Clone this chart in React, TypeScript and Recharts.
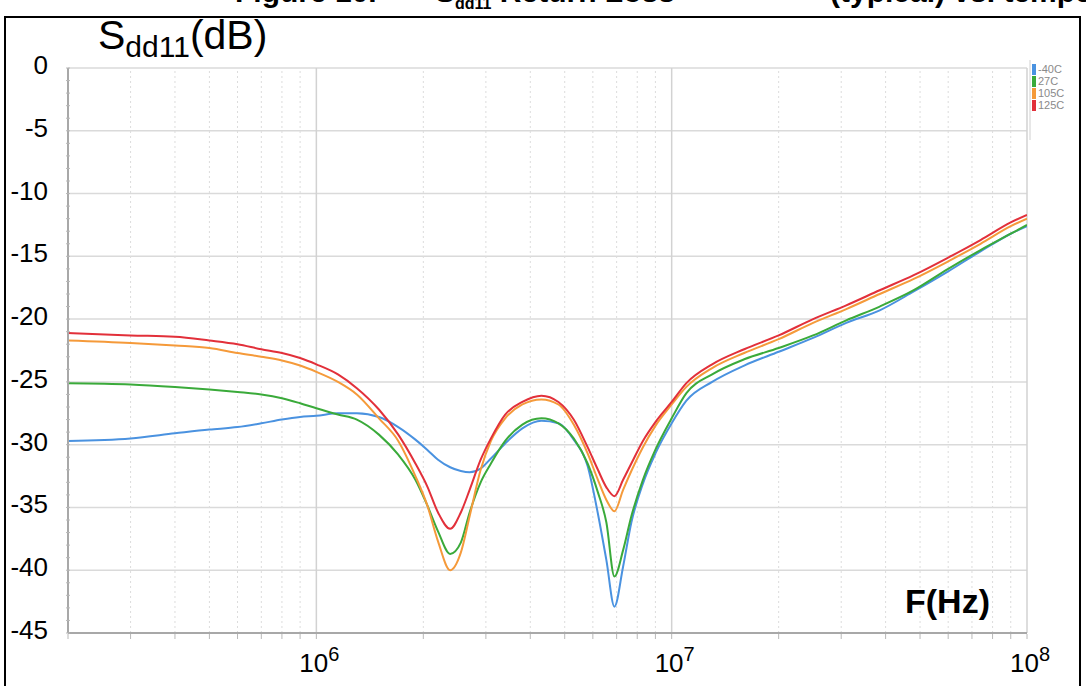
import { LineChart, Line, XAxis, YAxis, ReferenceLine } from "recharts"

// frequency grid (Hz) shared by all four traces
const freqHz = [
  2e5, 3e5, 4e5, 5e5, 6e5, 7e5, 8e5, 9e5, 1e6, 1.15e6, 1.3e6, 1.5e6, 1.7e6, 1.9e6, 2.05e6, 2.2e6,
  2.38e6, 2.55e6, 2.7e6, 2.9e6, 3.1e6, 3.4e6, 3.8e6, 4.3e6, 4.8e6, 5.3e6, 5.8e6, 6.2e6, 6.55e6,
  6.9e6, 7.3e6, 7.7e6, 8.3e6, 9e6, 1e7, 1.1e7, 1.3e7, 1.6e7, 2e7, 2.5e7, 3.1e7, 3.85e7, 4.8e7,
  6e7, 7.4e7, 9e7, 1e8,
]

const sddMinus40 = [
  -29.7, -29.5, -29.1, -28.8, -28.6, -28.3, -28.0, -27.8, -27.7, -27.5, -27.5, -27.8, -28.6, -29.6,
  -30.4, -31.2, -31.8, -32.1, -32.2, -31.9, -31.1, -29.9, -28.7, -28.1, -28.3, -29.6, -31.7, -35.5,
  -39.2, -42.9, -39.7, -36.2, -33.1, -30.7, -28.3, -26.5, -25.0, -23.7, -22.6, -21.5, -20.3, -19.3,
  -17.8, -16.2, -14.6, -13.2, -12.6,
]

const sdd27 = [
  -25.1, -25.2, -25.4, -25.6, -25.8, -26.0, -26.3, -26.7, -27.1, -27.6, -28.0, -29.2, -30.8, -32.8,
  -34.8, -36.9, -38.7, -37.8, -35.4, -33.0, -31.5, -29.7, -28.4, -27.9, -28.3, -29.5, -31.5, -33.8,
  -36.2, -40.5, -38.4, -35.7, -32.8, -30.4, -27.9, -25.9, -24.4, -23.2, -22.3, -21.3, -20.1, -19.0,
  -17.7, -16.0, -14.5, -13.2, -12.5,
]

const sdd105 = [
  -21.7, -21.9, -22.1, -22.3, -22.7, -23.0, -23.3, -23.7, -24.2, -25.0, -26.0, -27.9, -29.7, -32.5,
  -34.8, -37.7, -40.0, -38.6, -35.7, -32.0, -29.7, -27.9, -26.8, -26.4, -26.8, -28.4, -30.7, -32.8,
  -34.4, -35.3, -33.6, -32.1, -30.2, -28.5, -26.8, -25.4, -23.9, -22.7, -21.6, -20.3, -19.2, -18.0,
  -16.8, -15.4, -14.0, -12.6, -12.0,
]

const sdd125 = [
  -21.1, -21.3, -21.4, -21.7, -22.0, -22.4, -22.7, -23.1, -23.6, -24.4, -25.5, -27.2, -29.2, -31.5,
  -33.3, -35.4, -36.7, -35.4, -33.6, -31.2, -29.5, -27.6, -26.6, -26.1, -26.6, -28.0, -30.2, -32.0,
  -33.4, -34.1, -32.8, -31.5, -29.7, -28.2, -26.6, -25.1, -23.6, -22.4, -21.3, -20.0, -18.9, -17.7,
  -16.5, -15.1, -13.7, -12.3, -11.7,
]

const seriesNames = ["-40C", "27C", "105C", "125C"]
const seriesColors = ["#4a92e0", "#3aaa3a", "#f59a3a", "#e2303a"]

const yMajor = [0, -5, -10, -15, -20, -25, -30, -35, -40, -45]
const yMinor = Array.from({ length: 46 }, (_, i) => -i)
const xDecades = [1e6, 1e7, 1e8]
const xMinors = [2e5, 3e5, 4e5, 5e5, 6e5, 7e5, 8e5, 9e5, 2e6, 3e6, 4e6, 5e6, 6e6, 7e6, 8e6, 9e6, 2e7, 3e7, 4e7, 5e7, 6e7, 7e7, 8e7, 9e7]

const data = freqHz.map((f, i) => ({
  f,
  m40: sddMinus40[i],
  t27: sdd27[i],
  t105: sdd105[i],
  t125: sdd125[i],
}))
const keys = ["m40", "t27", "t105", "t125"]

const font = "'Liberation Sans', Arial, sans-serif"

const YTick = (props: any) => {
  const { y, payload } = props
  const v = payload.value
  const major = v % 5 === 0
  return (
    <g>
      <line x1={66} x2={70} y1={y} y2={y} stroke="#b8b8b8" />
      {major && (
        <text x={48} y={y - 3} textAnchor="end" dominantBaseline="central" fontSize={26} fontFamily={font} fill="#000">
          {v}
        </text>
      )}
    </g>
  )
}

const XTick = (props: any) => {
  const { x, payload } = props
  const v = payload.value
  const exp = Math.round(Math.log10(v))
  const decade = Math.abs(Math.pow(10, exp) - v) < 1
  return (
    <g>
      <line x1={x} x2={x} y1={634} y2={639} stroke="#b8b8b8" />
      {decade && (
        <text x={x + 3} y={672} textAnchor="middle" fontSize={26} fontFamily={font} fill="#000">
          10
          <tspan fontSize={20} dy={-11}>
            {exp}
          </tspan>
        </text>
      )}
    </g>
  )
}

export default function App() {
  return (
    <div style={{ position: "absolute", left: 0, top: 0, width: 1086, height: 686, overflow: "hidden", background: "#fff" }}>
      {/* cut-off figure caption */}
      <svg width={1086} height={20} style={{ position: "absolute", left: 0, top: 0 }}>
        <text x={235} y={2} fontSize={30} fontWeight="bold" fontFamily={font} fill="#000">
          Figure 10.
        </text>
        <text x={435} y={2} fontSize={30} fontWeight="bold" fontFamily={font} fill="#000">
          S
          <tspan fontSize={16} dy={7}>dd11</tspan>
          <tspan dy={-7}> Return Loss</tspan>
        </text>
        <text x={830} y={2} fontSize={30} fontWeight="bold" fontFamily={font} fill="#000">
          (typical) vs. temperature
        </text>
      </svg>

      <div style={{ position: "absolute", left: 0, top: 0 }}>
        <LineChart width={1086} height={686} data={data} margin={{ top: 68, right: 59, bottom: 43, left: 58 }}>
          {yMajor.map((v) => (
            <ReferenceLine key={"h" + v} y={v} stroke="#dadada" strokeWidth={1.5} />
          ))}
          {xMinors.map((v) => (
            <ReferenceLine key={"m" + v} x={v} stroke="#dcdcdc" strokeDasharray="2 3" />
          ))}
          {xDecades.map((v) => (
            <ReferenceLine key={"d" + v} x={v} stroke="#d2d2d2" strokeWidth={1.5} />
          ))}
          <XAxis
            dataKey="f"
            type="number"
            scale="log"
            domain={[2e5, 1e8]}
            allowDataOverflow
            ticks={[...xMinors, ...xDecades]}
            height={10}
            tickLine={false}
            axisLine={{ stroke: "#a8a8a8", strokeWidth: 2 }}
            tick={<XTick />}
            interval={0}
          />
          <YAxis
            type="number"
            domain={[-45, 0]}
            ticks={yMinor}
            width={10}
            tickLine={false}
            axisLine={{ stroke: "#a8a8a8", strokeWidth: 2 }}
            tick={<YTick />}
            interval={0}
            allowDataOverflow
          />
          {keys.map((k, i) => (
            <Line
              key={k}
              dataKey={k}
              name={seriesNames[i]}
              type="monotone"
              stroke={seriesColors[i]}
              strokeWidth={2}
              dot={false}
              isAnimationActive={false}
            />
          ))}
        </LineChart>
      </div>

      {/* legend panel */}
      <svg width={60} height={80} style={{ position: "absolute", left: 1026, top: 60 }}>
        <line x1={4} x2={4} y1={0} y2={80} stroke="#d0d0d0" />
        {seriesNames.map((n, i) => (
          <g key={n}>
            <rect x={6} y={4 + i * 12} width={4} height={11} fill={seriesColors[i]} />
            <text x={12} y={13 + i * 12} fontSize={11} fontFamily={font} fill="#8a8a8a">
              {n}
            </text>
          </g>
        ))}
      </svg>

      {/* axis captions */}
      <div style={{ position: "absolute", left: 98, top: 12, fontFamily: font, fontSize: 41, color: "#000", whiteSpace: "nowrap" }}>
        S<span style={{ fontSize: 30, position: "relative", top: 8 }}>dd11</span>(dB)
      </div>
      <div style={{ position: "absolute", left: 905, top: 582, fontFamily: font, fontSize: 34, fontWeight: "bold", color: "#000" }}>
        F(Hz)
      </div>

      {/* outer frame */}
      <div style={{ position: "absolute", left: 4, top: 16, width: 1073, height: 700, border: "2px solid #000" }} />
    </div>
  )
}
